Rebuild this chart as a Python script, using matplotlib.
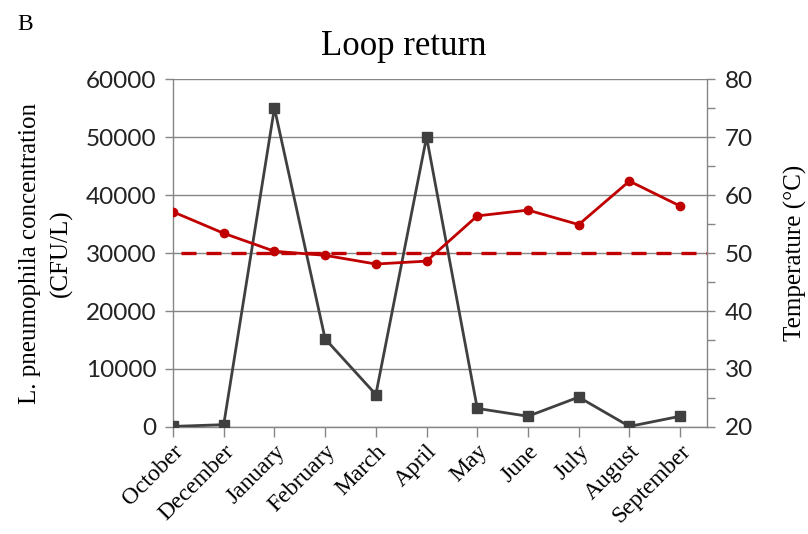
import matplotlib.pyplot as plt
import numpy as np

# data
months = ['October', 'December', 'January', 'February', 'March', 'April',
          'May', 'June', 'July', 'August', 'September']
concentration = [100, 400, 55000, 15200, 5600, 50000, 3200, 1850, 5150, 100, 1850]
temperature = [57.1, 53.4, 50.3, 49.6, 48.1, 48.6, 56.4, 57.4, 54.9, 62.4, 58.1]
threshold = 50

gray = '#404040'
red = '#C00000'
axis_gray = '#868686'
serif = 'Liberation Serif'
sans = 'Lato'

fig = plt.figure(figsize=(8.08, 5.34), dpi=100)
ax = fig.add_axes([0.2141, 0.2004, 0.6609, 0.6516])
ax2 = ax.twinx()

x = np.arange(len(months))

# bacteria concentration (left axis)
ax.plot(x, concentration, color=gray, linewidth=2, marker='s', markersize=6.5, zorder=3)
ax.set_ylim(0, 60000)
ax.set_yticks(np.arange(0, 60001, 10000))
ax.set_xlim(0, len(months) - 0.47)
ax.set_xticks(x)
ax.set_xticklabels(months, rotation=45, ha='right', rotation_mode='anchor',
                   fontsize=17, family=serif)
ax.yaxis.grid(True, color=axis_gray, linewidth=1)
ax.set_axisbelow(True)

# temperature (right axis)
ax2.plot(x, temperature, color=red, linewidth=2, marker='o', markersize=6, zorder=4)
ax2.hlines(threshold, 0.15, len(months) - 0.47, colors=red, linestyles=(0, (4.5, 3)),
           linewidth=2.4, zorder=4)
ax2.set_ylim(20, 80)
ax2.set_yticks(np.arange(20, 81, 10))
ax2.set_yticks(np.arange(25, 80, 10), minor=True)
ax2.set_xlim(ax.get_xlim())

for a in (ax, ax2):
    a.spines['top'].set_visible(False)
    for side in ('left', 'right', 'bottom'):
        a.spines[side].set_color(axis_gray)
        a.spines[side].set_linewidth(1)
    a.tick_params(which='both', color=axis_gray, length=6, width=1)
    for lab in a.get_yticklabels():
        lab.set_family(sans)
        lab.set_fontsize(17.5)
        lab.set_color('#222222')
ax2.spines['left'].set_visible(False)
ax2.spines['bottom'].set_visible(False)
ax.spines['right'].set_visible(False)
ax.tick_params(axis='x', length=7, pad=3)
ax.tick_params(axis='y', pad=6)
ax2.tick_params(axis='y', which='both', length=6, pad=7)

ax.set_ylabel('L. pneumophila concentration\n(CFU/L)', fontsize=18, family=serif,
              labelpad=9, linespacing=1.5)
ax2.set_ylabel('Temperature (°C)', fontsize=18, family=serif, labelpad=22)

fig.text(0.5, 0.912, 'Loop return', ha='center', va='center', fontsize=25, family=serif)
fig.text(0.022, 0.955, 'B', ha='left', va='center', fontsize=17, family=serif)

fig.savefig('out.png', dpi=100)
